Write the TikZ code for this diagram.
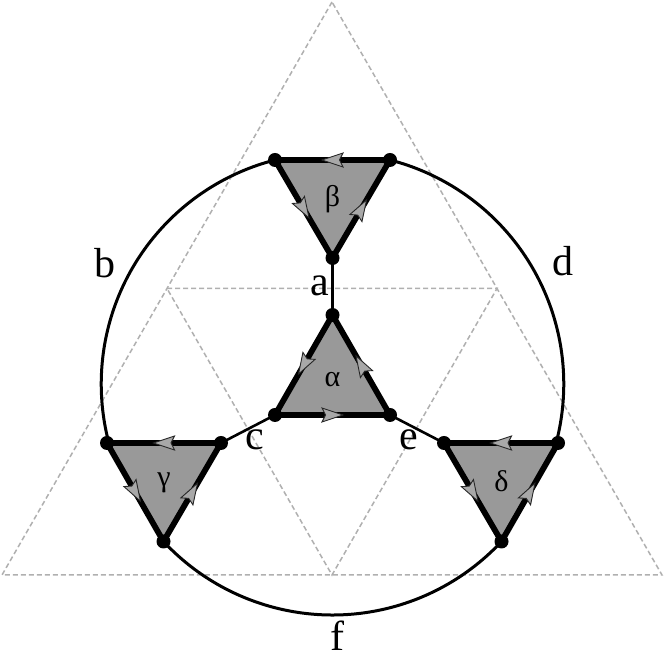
\documentclass[tikz,border=0pt]{standalone}
\usepackage{fontspec}
\setmainfont{Liberation Serif}
\usetikzlibrary{decorations.markings}
\definecolor{gridgray}{HTML}{B0B0B0}
\definecolor{facegray}{HTML}{999999}
\definecolor{tipgray}{HTML}{A8A8A8}
\tikzset{
  grid line/.style={draw=gridgray, line width=1.5pt, dash pattern=on 5pt off 3pt},
  face/.style={fill=facegray, draw=none},
  edge/.style={draw=black, line width=5.8pt, line cap=round,
    decoration={markings, mark=at position 0.5 with {
      \filldraw[fill=tipgray, draw=black!85, line width=0.9pt, line join=miter]
        (10.5pt,0pt) -- (-10.5pt,7pt) -- (-7pt,0pt) -- (-10.5pt,-7pt) -- cycle;}},
    postaction={decorate}},
  conn/.style={draw=black, line width=2.6pt},
  ring/.style={draw=black, line width=3pt},
  vdot/.style={fill=black},
  lbl/.style={inner sep=0pt, font=\fontsize{42}{50}\selectfont},
  glbl/.style={inner sep=0pt, font=\fontsize{30}{36}\selectfont},
}
\begin{document}
\begin{tikzpicture}[x=1pt, y=1pt]
\useasboundingbox (0,0) rectangle (664,652);
\fill[white] (0,0) rectangle (664,652);
% dashed grid
\coordinate (T0) at (332,650);
\coordinate (T1) at (2,77);
\coordinate (T2) at (662,77);
\coordinate (M1) at (167,363.5);
\coordinate (M2) at (497,363.5);
\coordinate (M3) at (332,77);
\draw[grid line] (T0) -- (T1) -- (T2) -- cycle;
\draw[grid line] (M1) -- (M2) -- (M3) -- cycle;
% vertices
\coordinate (A1) at (332.5,337);
\coordinate (A2) at (275,237);
\coordinate (A3) at (390,237);
\coordinate (B1) at (275,492);
\coordinate (B2) at (390,492);
\coordinate (B3) at (332.5,394);
\coordinate (G1) at (107,209);
\coordinate (G2) at (221,209);
\coordinate (G3) at (163.5,110.5);
\coordinate (D1) at (444,209);
\coordinate (D2) at (558,209);
\coordinate (D3) at (501.5,110.5);
% outer arcs
\draw[ring] (B1) arc[start angle=104.4, end angle=194.66, radius=231.3];
\draw[ring] (B2) arc[start angle=75.6, end angle=-14.66, radius=231.3];
\draw[ring] (G3) arc[start angle=222.98, end angle=317.02, radius=231.0];
% connectors
\draw[conn] (B3) -- (A1);
\draw[conn] (G2) -- (A2);
\draw[conn] (A3) -- (D1);
% faces
\fill[face] (A1) -- (A2) -- (A3) -- cycle;
\fill[face] (B1) -- (B2) -- (B3) -- cycle;
\fill[face] (G1) -- (G2) -- (G3) -- cycle;
\fill[face] (D1) -- (D2) -- (D3) -- cycle;
% oriented edges
\draw[edge] (A1) -- (A2);
\draw[edge] (A2) -- (A3);
\draw[edge] (A3) -- (A1);
\draw[edge] (B2) -- (B1);
\draw[edge] (B1) -- (B3);
\draw[edge] (B3) -- (B2);
\draw[edge] (G2) -- (G1);
\draw[edge] (G1) -- (G3);
\draw[edge] (G3) -- (G2);
\draw[edge] (D2) -- (D1);
\draw[edge] (D1) -- (D3);
\draw[edge] (D3) -- (D2);
% dots
\foreach \v in {A1,A2,A3,B1,B2,B3,G1,G2,G3,D1,D2,D3}
  \fill[vdot] (\v) circle[radius=7];
% labels
\node[lbl] (la) at (320,366) {a};
\node[lbl] (lb) at (105,388.5) {b};
\node[lbl] (lc) at (254.5,212) {c};
\node[lbl] (ld) at (562.5,390.5) {d};
\node[lbl] (le) at (408.5,212) {e};
\node[lbl] (lf) at (337,16) {f};
\node[glbl] (lalpha) at (332.5,272.5) {α};
\node[glbl] (lbeta) at (332.5,452.5) {β};
\node[glbl] (lgamma) at (164,169) {γ};
\node[glbl] (ldelta) at (501.5,171) {δ};
\end{tikzpicture}
\end{document}
